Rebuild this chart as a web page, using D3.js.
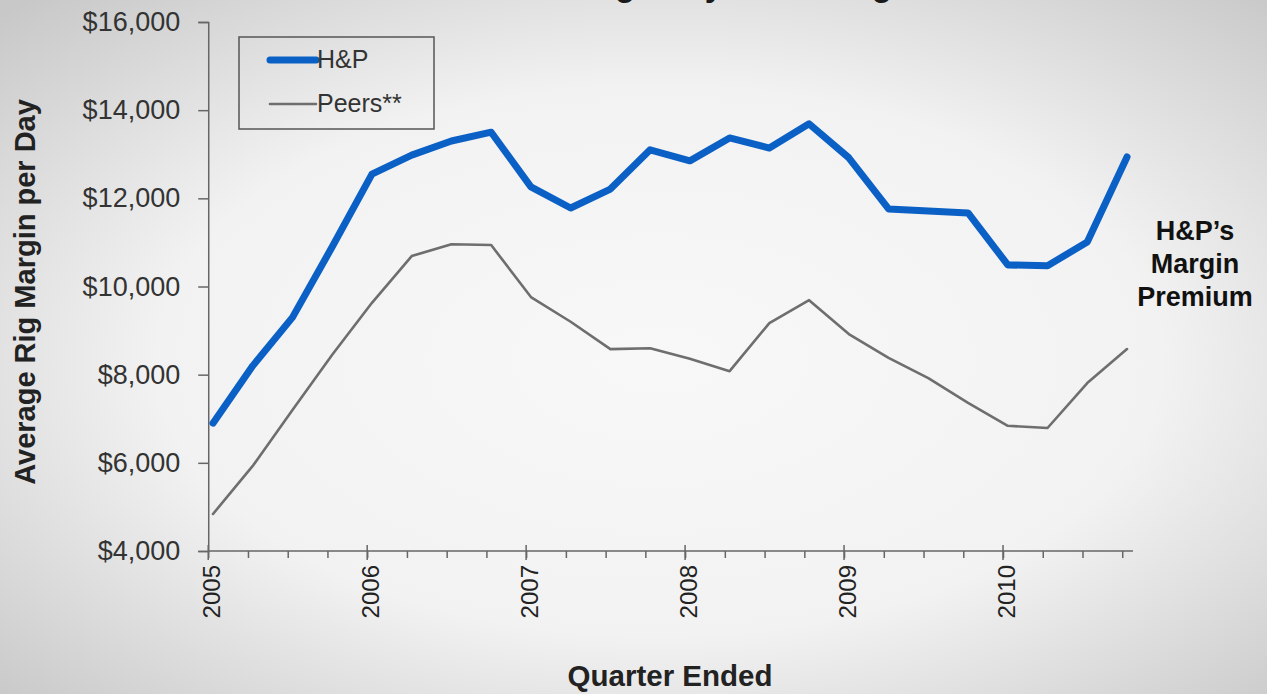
<!DOCTYPE html>
<html>
<head>
<meta charset="utf-8">
<script src="https://cdn.jsdelivr.net/npm/d3@7"></script>
<style>
  body { margin: 0; background: #e6e6e6; }
  svg { display: block; font-family: "Liberation Sans", Arial, sans-serif; }
</style>
</head>
<body>
<svg></svg>
<script>
// H&P vs peers, average rig margin per day, quarterly 2005-2010

let width = 1267, height = 694;

let years = [2005, 2006, 2007, 2008, 2009, 2010];
let quarters = ["Q1", "Q2", "Q3", "Q4"];

let hp = [6900, 8200, 9300, 10900, 12550, 12980, 13300, 13500,
          12260, 11780, 12210, 13100, 12850, 13370, 13140, 13690,
          12920, 11760, 11710, 11670, 10490, 10470, 11010, 12940];

let peers = [4840, 5930, 7200, 8450, 9630, 10690, 10960, 10940,
             9760, 9200, 8580, 8600, 8360, 8080, 9170, 9690,
             8920, 8380, 7920, 7360, 6840, 6790, 7810, 8580];

let yTicks = [4000, 6000, 8000, 10000, 12000, 14000, 16000];

let series = [
  {name: "H&P", values: hp, color: "#0b60c6", width: 7},
  {name: "Peers**", values: peers, color: "#6e6e6e", width: 2.6}
];

let periods = [];
years.forEach(y => quarters.forEach(q => periods.push(y + " " + q)));

let svg = d3.select("svg")
  .attr("width", width)
  .attr("height", height);

// background with soft vignette
let defs = svg.append("defs");
let grad = defs.append("radialGradient")
  .attr("id", "bg")
  .attr("cx", "52%").attr("cy", "52%").attr("r", "72%");
grad.append("stop").attr("offset", "0%").attr("stop-color", "#f8f8f8");
grad.append("stop").attr("offset", "55%").attr("stop-color", "#f2f2f2");
grad.append("stop").attr("offset", "100%").attr("stop-color", "#c8c8c8");

svg.append("rect")
  .attr("width", width).attr("height", height)
  .attr("fill", "url(#bg)");

let tickOffset = 0.12;

let x = d3.scaleLinear()
  .domain([0, periods.length - 1])
  .range([213, 1127]);

let y = d3.scaleLinear()
  .domain([4000, 16000])
  .range([551, 22]);

// title, mostly cut off at top of the slide
svg.append("text")
  .attr("x", 652).attr("y", -4)
  .attr("text-anchor", "middle")
  .attr("font-size", 33)
  .attr("font-weight", "bold")
  .attr("fill", "#1a1a1a")
  .text("U.S. Land Average Day Rate Margins");

// y axis
let yAxis = d3.axisLeft(y)
  .tickValues(yTicks)
  .tickSize(10)
  .tickPadding(18)
  .tickFormat(d => "$" + d3.format(",")(d));

let gy = svg.append("g")
  .attr("transform", "translate(" + x(-tickOffset) + ",0)")
  .call(yAxis);
gy.select(".domain").attr("stroke", "#666").attr("stroke-width", 1.5);
gy.selectAll(".tick line").attr("stroke", "#666").attr("stroke-width", 1.5);
gy.selectAll(".tick text")
  .attr("font-size", 27)
  .attr("fill", "#333")
  .attr("font-family", "Liberation Sans, Arial, sans-serif");

// x axis, one tick per quarter
let xAxis = d3.axisBottom(x)
  .tickValues(periods.map((p, i) => i - tickOffset))
  .tickSize(7)
  .tickFormat("");

let gx = svg.append("g")
  .attr("transform", "translate(0," + y(4000) + ")")
  .call(xAxis);
gx.select(".domain")
  .attr("d", "M" + x(-tickOffset) + ",0H" + x(periods.length - 1 + 0.15))
  .attr("stroke", "#666").attr("stroke-width", 1.5);
gx.selectAll(".tick line").attr("stroke", "#666").attr("stroke-width", 1.5);

// year ticks and labels
let yearIdx = periods.map((p, i) => i).filter(i => i % 4 === 0);
let yearG = gx.selectAll(".year")
  .data(yearIdx)
  .enter()
  .append("g")
  .attr("class", "year")
  .attr("transform", d => "translate(" + x(d - tickOffset) + ",0)");
yearG.append("line")
  .attr("y1", -6).attr("y2", 9)
  .attr("stroke", "#666").attr("stroke-width", 1.5);
yearG.append("text")
  .attr("transform", "rotate(-90)")
  .attr("x", -14).attr("y", 12)
  .attr("text-anchor", "end")
  .attr("font-size", 24)
  .attr("fill", "#222")
  .text(d => years[d / 4]);

// axis titles
svg.append("text")
  .attr("transform", "translate(35,292) rotate(-90)")
  .attr("text-anchor", "middle")
  .attr("font-size", 29)
  .attr("font-weight", "bold")
  .attr("fill", "#222")
  .text("Average Rig Margin per Day");

svg.append("text")
  .attr("x", 670).attr("y", 686)
  .attr("text-anchor", "middle")
  .attr("font-size", 29.5)
  .attr("font-weight", "bold")
  .attr("fill", "#222")
  .text("Quarter Ended");

// lines
let line = d3.line()
  .x((d, i) => x(i))
  .y(d => y(d));

svg.append("g")
  .selectAll("path")
  .data(series.slice().reverse())
  .enter()
  .append("path")
  .attr("fill", "none")
  .attr("stroke", d => d.color)
  .attr("stroke-width", d => d.width)
  .attr("stroke-linejoin", "round")
  .attr("stroke-linecap", "round")
  .attr("d", d => line(d.values));

// legend
let legend = svg.append("g").attr("transform", "translate(239,37)");
legend.append("rect")
  .attr("width", 195).attr("height", 92)
  .attr("fill", "none")
  .attr("stroke", "#555").attr("stroke-width", 1.5);

let item = legend.selectAll(".item")
  .data(series)
  .enter()
  .append("g")
  .attr("class", "item")
  .attr("transform", (d, i) => "translate(0," + (23 + i * 44) + ")");
item.append("line")
  .attr("x1", 31).attr("x2", 77)
  .attr("stroke", d => d.color)
  .attr("stroke-width", d => d.width)
  .attr("stroke-linecap", "round");
item.append("text")
  .attr("x", 78).attr("y", 8)
  .attr("font-size", 25)
  .attr("fill", "#333")
  .text(d => d.name);

// annotation on the right
let note = svg.append("text")
  .attr("x", 1195).attr("y", 240)
  .attr("text-anchor", "middle")
  .attr("font-size", 27)
  .attr("font-weight", "bold")
  .attr("fill", "#111");
["H&P\u2019s", "Margin", "Premium"].forEach((t, i) => {
  note.append("tspan")
    .attr("x", 1195)
    .attr("dy", i === 0 ? 0 : 33)
    .text(t);
});
</script>
</body>
</html>
